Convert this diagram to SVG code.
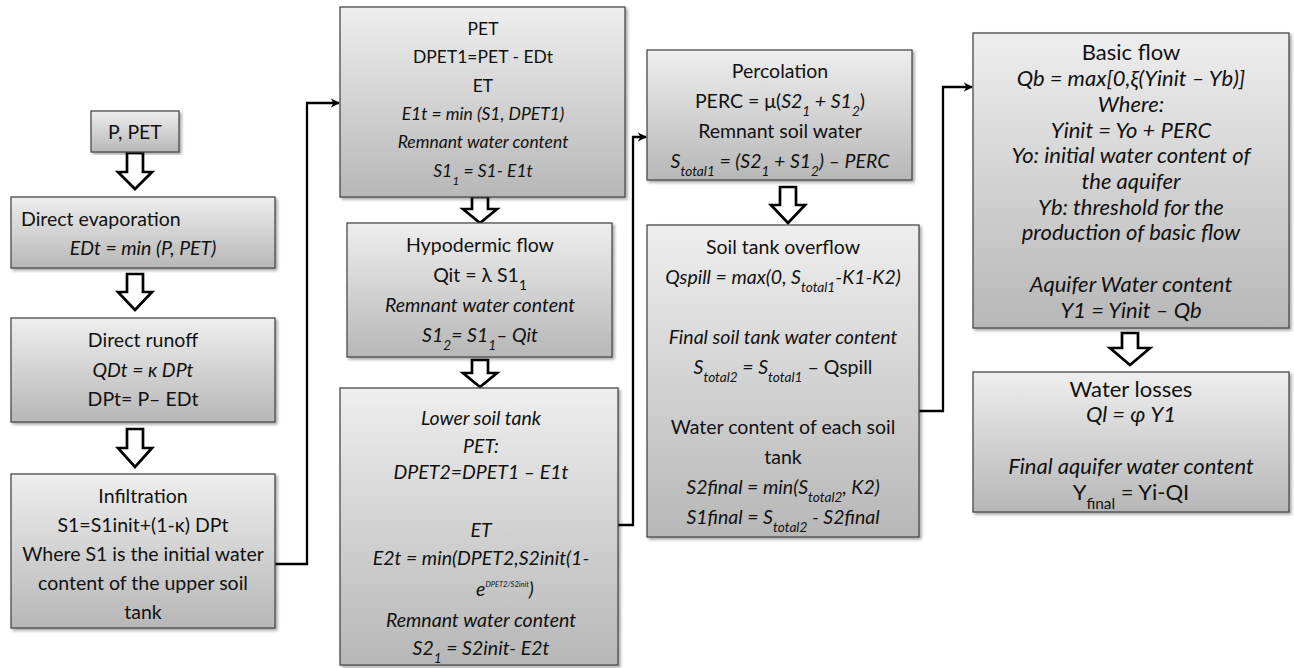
<svg xmlns="http://www.w3.org/2000/svg" width="1294" height="668" viewBox="0 0 1294 668">
<style>
text{font-family:Lato,"Liberation Sans","DejaVu Sans",sans-serif;fill:#111;text-anchor:middle;font-size:19.5px}
.i{font-style:italic}
.n{font-style:normal}
.s{font-size:17.5px}
.r{font-size:22px}
.sub{font-size:70%;baseline-shift:sub}
.box{fill:url(#g);stroke:#4a4a4a;stroke-width:1.3;filter:url(#sh)}
.ha{fill:#fff;stroke:#000;stroke-width:2.7;stroke-linejoin:miter}
.cn{fill:none;stroke:#000;stroke-width:2.3;marker-end:url(#ah)}
</style>
<defs>
<linearGradient id="g" x1="0" y1="0" x2="0" y2="1">
<stop offset="0" stop-color="#eeeeee"/>
<stop offset="1" stop-color="#b7b7b7"/>
</linearGradient>
<filter id="sh" x="-5%" y="-5%" width="112%" height="112%">
<feDropShadow dx="2" dy="2" stdDeviation="1.5" flood-color="#000" flood-opacity="0.35"/>
</filter>
<marker id="ah" viewBox="0 0 10 10" refX="9" refY="5" markerWidth="4" markerHeight="4" orient="auto" markerUnits="strokeWidth">
<path d="M0,0 L10,5 L0,10 L3,5 Z" fill="#000"/>
</marker>
</defs>

<g id="connectors">
<path class="ha" d="M127,153 H143 V172 H152 L135,189 L118,172 H127 Z"/>
<path class="ha" d="M127,274 H143 V292 H152 L135,310 L118,292 H127 Z"/>
<path class="ha" d="M127,429 H143 V448 H152 L135,467 L118,448 H127 Z"/>
<path class="ha" d="M472,197 H488 V209 H497 L480,223 L463,209 H472 Z"/>
<path class="ha" d="M472,360 H488 V373 H497 L480,387 L463,373 H472 Z"/>
<path class="ha" d="M780,187 H796 V205 H805 L788,223 L771,205 H780 Z"/>
<path class="ha" d="M1122,333 H1138 V348 H1150 L1130,365 L1110,348 H1122 Z"/>
<polyline class="cn" points="275,564 307,564 307,103 339,103"/>
<polyline class="cn" points="618,525 633,525 633,137 646,137"/>
<polyline class="cn" points="919,411 943,411 943,87 972,87"/>
</g>

<g id="pet-input">
<rect class="box" x="91" y="111" width="88" height="41"/>
<text x="135" y="139">P, PET</text>
</g>

<g id="direct-evaporation">
<rect class="box" x="11" y="197" width="264" height="71"/>
<text x="21" y="226" style="text-anchor:start">Direct evaporation</text>
<text class="i" x="143" y="255">EDt = min (P, PET)</text>
</g>

<g id="direct-runoff">
<rect class="box" x="11" y="318" width="264" height="104"/>
<text x="143" y="347">Direct runoff</text>
<text class="i" x="143" y="377">QDt = κ DPt</text>
<text x="143" y="406">DPt= P– EDt</text>
</g>

<g id="infiltration">
<rect class="box" x="11" y="474" width="264" height="154"/>
<text x="143" y="503">Infiltration</text>
<text x="143" y="532">S1=S1init+(1-κ) DPt</text>
<text x="143" y="561">Where S1 is the initial water</text>
<text x="143" y="590">content of the upper soil</text>
<text x="143" y="619">tank</text>
</g>

<g id="upper-tank-et">
<rect class="box" x="340" y="7" width="285" height="190"/>
<text class="s" x="483" y="35">PET</text>
<text class="s" x="483" y="63">DPET1=PET - EDt</text>
<text class="s" x="483" y="92">ET</text>
<text class="s i" x="483" y="120">E1t = min (S1, DPET1)</text>
<text class="s i" x="483" y="148">Remnant water content</text>
<text class="s i" x="483" y="177">S1<tspan class="sub">1</tspan> = S1- E1t</text>
</g>

<g id="hypodermic-flow">
<rect class="box" x="347" y="223" width="265" height="134"/>
<text x="480" y="252">Hypodermic flow</text>
<text x="480" y="282">Qit = λ S1<tspan class="sub">1</tspan></text>
<text class="i" x="480" y="312">Remnant water content</text>
<text class="i" x="480" y="342">S1<tspan class="sub">2</tspan>= S1<tspan class="sub">1</tspan>– Qit</text>
</g>

<g id="lower-soil-tank">
<rect class="box" x="340" y="388" width="278" height="277"/>
<text class="i" x="481" y="425">Lower soil tank</text>
<text class="i" x="481" y="453">PET:</text>
<text class="i" x="481" y="479">DPET2=DPET1 – E1t</text>
<text class="i" x="481" y="537">ET</text>
<text class="i" x="481" y="565">E2t = min(DPET2,S2init(1-</text>
<text class="i" x="505" y="596">e<tspan font-size="7.5" dy="-9">DPET2/S2init</tspan><tspan dy="9">)</tspan></text>
<text class="i" x="481" y="627">Remnant water content</text>
<text class="i" x="481" y="655">S2<tspan class="sub">1</tspan> = S2init- E2t</text>
</g>

<g id="percolation">
<rect class="box" x="647" y="50" width="265" height="130"/>
<text x="780" y="78">Percolation</text>
<text x="780" y="108">PERC = μ(<tspan class="i">S2<tspan class="sub">1</tspan> + S1<tspan class="sub">2</tspan></tspan>)</text>
<text x="780" y="138">Remnant soil water</text>
<text class="i" x="780" y="168">S<tspan class="sub">total1</tspan> = (S2<tspan class="sub">1</tspan> + S1<tspan class="sub">2</tspan>) – PERC</text>
</g>

<g id="soil-tank-overflow">
<rect class="box" x="647" y="225" width="272" height="312"/>
<text x="783" y="254">Soil tank overflow</text>
<text class="i" x="783" y="284">Qspill = max(0, S<tspan class="sub">total1</tspan>-K1-K2)</text>
<text class="i" x="783" y="344">Final  soil tank water content</text>
<text x="783" y="374"><tspan class="i">S<tspan class="sub">total2</tspan> = S<tspan class="sub">total1</tspan></tspan> – Qspill</text>
<text x="783" y="434">Water content of each soil</text>
<text x="783" y="464">tank</text>
<text class="i" x="783" y="494">S2final = min(S<tspan class="sub">total2</tspan>, K2)</text>
<text class="i" x="783" y="524">S1final = S<tspan class="sub">total2</tspan> - S2final</text>
</g>

<g id="basic-flow">
<rect class="box" x="973" y="33" width="316" height="295"/>
<text class="r" x="1131" y="60">Basic flow</text>
<text class="r i" x="1131" y="86">Qb = max[0,ξ(Yinit – Yb)]</text>
<text class="r i" x="1131" y="112">Where:</text>
<text class="r i" x="1131" y="138">Yinit = Yo + PERC</text>
<text class="r i" x="1131" y="163">Yo: initial water content of</text>
<text class="r i" x="1131" y="189">the aquifer</text>
<text class="r i" x="1131" y="215">Yb: threshold for the</text>
<text class="r i" x="1131" y="240">production of basic flow</text>
<text class="r i" x="1131" y="292">Aquifer Water content</text>
<text class="r i" x="1131" y="318">Y1 = Yinit – Qb</text>
</g>

<g id="water-losses">
<rect class="box" x="973" y="372" width="316" height="140"/>
<text class="r" x="1131" y="397">Water losses</text>
<text class="r i" x="1131" y="422">Ql = φ Y1</text>
<text class="r i" x="1131" y="474">Final aquifer water content</text>
<text class="r" x="1131" y="500">Y<tspan class="sub">final</tspan> = Yi-QI</text>
</g>
</svg>
